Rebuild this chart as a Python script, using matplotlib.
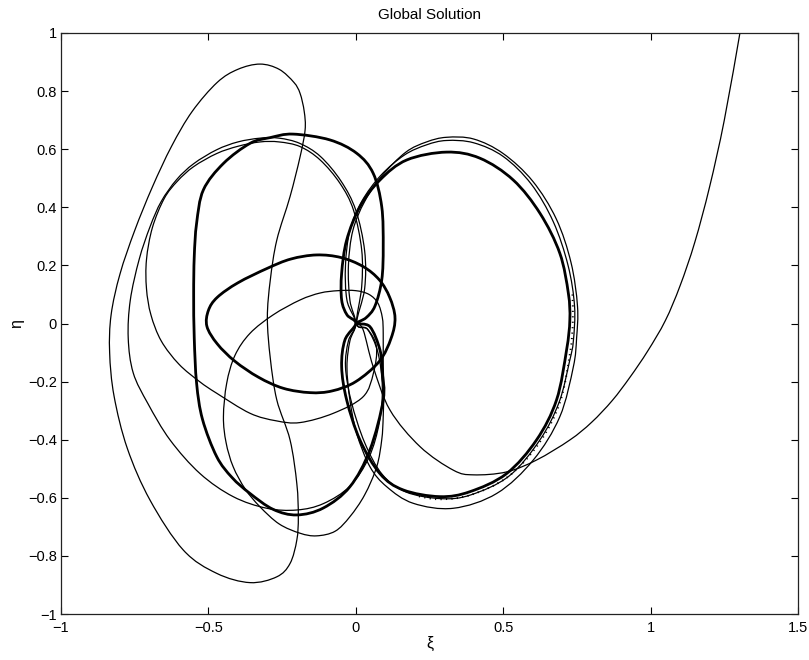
import matplotlib
matplotlib.use("Agg")
import matplotlib.pyplot as plt
from matplotlib.path import Path
from matplotlib.patches import PathPatch

plt.rcParams['font.family'] = ['Liberation Sans', 'DejaVu Sans']

# ---- data ----
title = "Global Solution"
x_ticks = [-1, -0.5, 0, 0.5, 1, 1.5]
x_tick_labels = ["\u22121", "\u22120.5", "0", "0.5", "1", "1.5"]
y_ticks = [-1, -0.8, -0.6, -0.4, -0.2, 0, 0.2, 0.4, 0.6, 0.8, 1]
y_tick_labels = ["\u22121", "\u22120.8", "\u22120.6", "\u22120.4", "\u22120.2", "0",
                 "0.2", "0.4", "0.6", "0.8", "1"]

# thick orbit: upper-left + lower-left loop
thick_left_x = [0.003, 0.035, 0.065, 0.088, 0.093, 0.088, 0.059, 0.003, -0.088, -0.213, -0.29, -0.359,
                -0.449, -0.517, -0.54, -0.548, -0.55, -0.548, -0.54, -0.52, -0.472, -0.42, -0.359,
                -0.28, -0.20, -0.11, -0.02, 0.048, 0.093, 0.09, 0.082, 0.048, 0.003]
thick_left_y = [0.0, 0.02, 0.06, 0.15, 0.264, 0.402, 0.517, 0.586, 0.632, 0.652, 0.64, 0.62,
                0.551, 0.46, 0.345, 0.23, 0.1, -0.05, -0.206, -0.33, -0.458, -0.53, -0.585,
                -0.64, -0.659, -0.635, -0.562, -0.435, -0.263, -0.17, -0.091, -0.011, 0.0]

# thick horizontal loop
thick_mid_x = [0.133, 0.12, 0.08, 0.0, -0.08, -0.155, -0.246, -0.33, -0.41, -0.47, -0.505, -0.50,
               -0.47, -0.40, -0.30, -0.22, -0.133, -0.05, 0.025, 0.08, 0.115, 0.133]
thick_mid_y = [0.02, -0.05, -0.13, -0.20, -0.232, -0.238, -0.223, -0.185, -0.13, -0.07, -0.01, 0.045,
               0.09, 0.14, 0.19, 0.222, 0.236, 0.227, 0.196, 0.15, 0.09, 0.02]

# thick right loop
thick_right_x = [0.0, -0.03, -0.048, -0.048, -0.031, 0.014, 0.082, 0.173, 0.308, 0.421, 0.534, 0.625,
                 0.692, 0.721, 0.726, 0.715, 0.681, 0.613, 0.511, 0.387, 0.285, 0.161, 0.082, 0.014,
                 -0.031, -0.048, -0.037, 0.0]
thick_right_y = [0.0, 0.03, 0.081, 0.173, 0.287, 0.402, 0.494, 0.563, 0.590, 0.569, 0.494, 0.379,
                 0.242, 0.104, 0.012, -0.091, -0.263, -0.401, -0.517, -0.579, -0.596, -0.573, -0.517,
                 -0.401, -0.263, -0.149, -0.057, 0.0]

# dotted marks along the lower right of the thick right loop
marks_x = [0.735, 0.736, 0.727, 0.693, 0.623, 0.517, 0.39, 0.285, 0.2]
marks_y = [0.10, 0.0, -0.10, -0.27, -0.41, -0.527, -0.59, -0.605, -0.592]

# thin right loops
thin_r2_x = [0.0, -0.02, -0.025, -0.01, 0.03, 0.09, 0.17, 0.24, 0.308, 0.40, 0.50, 0.60, 0.68, 0.73,
             0.752, 0.749, 0.738, 0.692, 0.602, 0.478, 0.331, 0.195, 0.105, 0.048, 0.003, -0.02,
             -0.03, -0.02, 0.0]
thin_r2_y = [0.0, 0.08, 0.2, 0.32, 0.42, 0.51, 0.59, 0.625, 0.641, 0.635, 0.585, 0.49, 0.36, 0.21,
             0.06, -0.05, -0.149, -0.321, -0.470, -0.585, -0.636, -0.619, -0.562, -0.493, -0.378,
             -0.263, -0.149, -0.06, 0.0]
thin_r3_x = [0.0, -0.03, -0.035, -0.02, 0.02, 0.085, 0.165, 0.24, 0.308, 0.40, 0.50, 0.595, 0.67,
             0.72, 0.742, 0.738, 0.725, 0.69, 0.625, 0.52, 0.39, 0.29, 0.17, 0.09, 0.03, -0.015,
             -0.035, -0.025, 0.0]
thin_r3_y = [0.0, 0.08, 0.2, 0.32, 0.42, 0.51, 0.58, 0.615, 0.630, 0.622, 0.575, 0.48, 0.35, 0.2,
             0.06, -0.06, -0.13, -0.27, -0.40, -0.525, -0.59, -0.603, -0.58, -0.52, -0.41, -0.27,
             -0.149, -0.06, 0.0]

# thin loop a
thin_a_x = [0.003, 0.02, 0.02, -0.008, -0.054, -0.121, -0.189, -0.26, -0.325, -0.40, -0.472, -0.55,
            -0.605, -0.65, -0.69, -0.71, -0.71, -0.695, -0.66, -0.60, -0.53, -0.472, -0.359, -0.27,
            -0.189, -0.076, 0.025, 0.06, 0.07, 0.04, 0.003]
thin_a_y = [0.0, 0.127, 0.253, 0.391, 0.483, 0.563, 0.609, 0.625, 0.625, 0.61, 0.585, 0.54,
            0.49, 0.43, 0.33, 0.22, 0.12, 0.03, -0.06, -0.14, -0.20, -0.240, -0.309, -0.335,
            -0.341, -0.309, -0.252, -0.17, -0.08, -0.02, 0.0]

# thin loop b
thin_b_x = [0.003, 0.03, 0.03, 0.0, -0.05, -0.12, -0.19, -0.26, -0.325, -0.40, -0.472, -0.55, -0.608,
            -0.66, -0.698, -0.735, -0.765, -0.772, -0.755, -0.705, -0.630, -0.528, -0.416, -0.302,
            -0.2, -0.11, -0.02, 0.045, 0.08, 0.09, 0.075, 0.04, 0.003]
thin_b_y = [0.0, 0.12, 0.25, 0.39, 0.49, 0.575, 0.62, 0.638, 0.638, 0.625, 0.598, 0.55, 0.495,
            0.42, 0.333, 0.22, 0.08, -0.05, -0.17, -0.276, -0.401, -0.517, -0.596, -0.636,
            -0.642, -0.62, -0.56, -0.46, -0.34, -0.22, -0.10, -0.02, 0.0]

# thin loop d (inner lower)
thin_d_x = [0.093, 0.09, 0.075, 0.045, 0.0, -0.06, -0.121, -0.189, -0.28, -0.359, -0.41, -0.438,
            -0.449, -0.44, -0.416, -0.375, -0.325, -0.26, -0.189, -0.133, -0.07, -0.020, 0.03,
            0.071, 0.088, 0.093, 0.095, 0.093, 0.093]
thin_d_y = [-0.034, 0.02, 0.07, 0.100, 0.113, 0.113, 0.105, 0.081, 0.03, -0.034, -0.11, -0.206,
            -0.321, -0.41, -0.493, -0.57, -0.631, -0.69, -0.722, -0.731, -0.715, -0.665, -0.59,
            -0.493, -0.40, -0.321, -0.22, -0.149, -0.034]

# thin big loop with peak near 0.9
thin_peak_x = [-0.325, -0.26, -0.21, -0.189, -0.175, -0.172, -0.189, -0.223, -0.268, -0.29, -0.30,
               -0.29, -0.268, -0.223, -0.200, -0.195, -0.200, -0.223, -0.268, -0.359, -0.472,
               -0.585, -0.698, -0.775, -0.82, -0.835, -0.83, -0.80, -0.75, -0.69, -0.625,
               -0.555, -0.47, -0.40, -0.325]
thin_peak_y = [0.893, 0.875, 0.83, 0.792, 0.73, 0.666, 0.574, 0.437, 0.287, 0.15, 0.02,
               -0.12, -0.263, -0.401, -0.552, -0.665, -0.745, -0.826, -0.872, -0.892, -0.860,
               -0.780, -0.608, -0.43, -0.25, -0.1, 0.03, 0.17, 0.32, 0.47, 0.61,
               0.73, 0.83, 0.875, 0.893]

# escaping branch
escape_x = [0.003, 0.025, 0.059, 0.116, 0.218, 0.331, 0.399, 0.511, 0.613, 0.726, 0.80, 0.87,
            0.93, 0.99, 1.05, 1.10, 1.15, 1.20, 1.25, 1.303]
escape_y = [0.0, -0.022, -0.149, -0.298, -0.424, -0.505, -0.521, -0.511, -0.470, -0.401, -0.34,
            -0.265, -0.185, -0.095, 0.01, 0.13, 0.28, 0.47, 0.70, 1.0]

thick_curves = [(thick_left_x, thick_left_y), (thick_mid_x, thick_mid_y),
                (thick_right_x, thick_right_y)]
thin_curves = [(thin_r2_x, thin_r2_y), (thin_r3_x, thin_r3_y), (thin_a_x, thin_a_y),
               (thin_b_x, thin_b_y), (thin_d_x, thin_d_y), (thin_peak_x, thin_peak_y),
               (escape_x, escape_y)]


def smooth_path(xs, ys):
    """Smooth Bezier path passing through every read point (Catmull-Rom tangents)."""
    pts = list(zip(xs, ys))
    closed = abs(pts[0][0] - pts[-1][0]) < 1e-9 and abs(pts[0][1] - pts[-1][1]) < 1e-9
    if closed:
        pts = pts[:-1]
    n = len(pts)

    def get(i):
        if closed:
            return pts[i % n]
        return pts[min(max(i, 0), n - 1)]

    segs = n if closed else n - 1
    verts = [pts[0]]
    codes = [Path.MOVETO]
    for i in range(segs):
        p0, p1, p2, p3 = get(i - 1), get(i), get(i + 1), get(i + 2)
        c1 = (p1[0] + (p2[0] - p0[0]) / 6.0, p1[1] + (p2[1] - p0[1]) / 6.0)
        c2 = (p2[0] - (p3[0] - p1[0]) / 6.0, p2[1] - (p3[1] - p1[1]) / 6.0)
        verts += [c1, c2, p2]
        codes += [Path.CURVE4] * 3
    return Path(verts, codes)


fig = plt.figure(figsize=(8.09, 6.60), dpi=100)
ax = fig.add_axes([61 / 809, 46 / 660, 737 / 809, 581 / 660])

for xs, ys in thin_curves:
    ax.add_patch(PathPatch(smooth_path(xs, ys), fill=False, edgecolor='black', lw=0.9,
                           joinstyle='round'))
for xs, ys in thick_curves:
    ax.add_patch(PathPatch(smooth_path(xs, ys), fill=False, edgecolor='black', lw=2.0,
                           joinstyle='round'))
ax.add_patch(PathPatch(smooth_path(marks_x, marks_y), fill=False, edgecolor='black', lw=1.4,
                       linestyle=(0, (0.6, 2.2))))

ax.set_xlim(-1, 1.5)
ax.set_ylim(-1, 1)
ax.set_xticks(x_ticks)
ax.set_xticklabels(x_tick_labels)
ax.set_yticks(y_ticks)
ax.set_yticklabels(y_tick_labels)
ax.tick_params(direction='in', length=5, width=0.8, top=True, right=True,
               labelsize=10.5)
ax.tick_params(axis='x', pad=5)
ax.tick_params(axis='y', pad=3)
for s in ax.spines.values():
    s.set_linewidth(0.9)
    s.set_color('#222222')
ax.set_title(title, fontsize=11, pad=10)
ax.set_xlabel("\u03be", fontsize=11.5, labelpad=1)
ax.set_ylabel("\u03b7", fontsize=11.5, labelpad=3)

fig.savefig("out.png", dpi=100)
